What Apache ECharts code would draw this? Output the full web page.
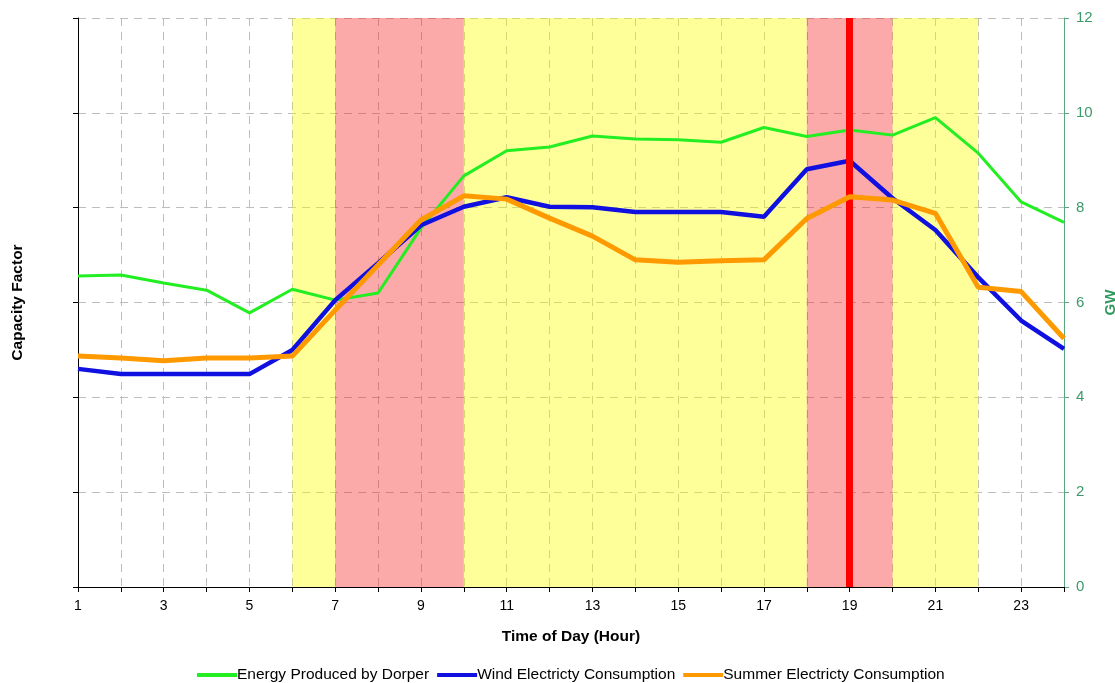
<!DOCTYPE html>
<html>
<head>
<meta charset="utf-8">
<script src="https://cdn.jsdelivr.net/npm/echarts@6/dist/echarts.min.js"></script>
<style>html,body{margin:0;padding:0;background:#fff;overflow:hidden;}#c{width:1115px;height:683px;}</style>
</head>
<body>
<div id="c"></div>
<script>
var hours = [1,2,3,4,5,6,7,8,9,10,11,12,13,14,15,16,17,18,19,20,21,22,23,24];
var dorper = [6.56,6.58,6.41,6.26,5.78,6.28,6.05,6.20,7.57,8.67,9.20,9.28,9.51,9.45,9.43,9.38,9.69,9.50,9.64,9.53,9.90,9.15,8.12,7.69];
var wind = [4.60,4.49,4.49,4.49,4.49,5.00,6.05,6.83,7.63,8.02,8.22,8.02,8.01,7.91,7.91,7.91,7.81,8.81,8.99,8.20,7.53,6.53,5.62,5.02];
var summer = [4.87,4.83,4.77,4.83,4.83,4.87,5.84,6.79,7.74,8.25,8.18,7.78,7.40,6.90,6.85,6.88,6.90,7.77,8.23,8.16,7.88,6.32,6.23,5.24];
var yellowBands = [[6,7],[10,18],[20,22]];
var redBands = [[7,10],[18,20]];
var peakHour = 19;

function pairs(v){ return hours.map(function(h,i){ return [h, v[i]]; }); }

var areas = [];
yellowBands.forEach(function(b){ areas.push([{xAxis:b[0], itemStyle:{color:'rgba(255,255,0,0.4)'}},{xAxis:b[1]}]); });
redBands.forEach(function(b){ areas.push([{xAxis:b[0], itemStyle:{color:'rgba(245,40,40,0.4)'}},{xAxis:b[1]}]); });

var chart = echarts.init(document.getElementById('c'), null, {width:1115, height:683});
chart.setOption({
  animation:false,
  textStyle:{fontFamily:'Liberation Sans, Arial, sans-serif'},
  grid:{left:78,right:51,top:18,bottom:96,containLabel:false,outerBoundsMode:'none'},
  legend:{
    top:662, left:192, itemWidth:40, itemHeight:4, itemGap:8, icon:'rect',
    textStyle:{fontSize:15.5,color:'#000',padding:[0,0,0,-5]},
    data:['Energy Produced by Dorper','Wind Electricty Consumption','Summer Electricty Consumption']
  },
  xAxis:{
    type:'value', min:1, max:24, interval:1,
    name:'Time of Day (Hour)', nameLocation:'middle', nameGap:42,
    nameTextStyle:{fontSize:15.5,fontWeight:'bold',color:'#000'},
    axisLine:{lineStyle:{color:'#000',width:1}},
    axisTick:{show:true,length:5,lineStyle:{color:'#000'}},
    axisLabel:{fontSize:14,color:'#000',margin:12,formatter:function(v){return (v%2===1)?String(v):'';}},
    splitLine:{show:true,lineStyle:{type:[8,6],color:'#bdbdbd',width:1}}
  },
  yAxis:[{
    type:'value', min:0, max:12, interval:2, position:'left',
    name:'Capacity Factor', nameLocation:'middle', nameGap:52, nameRotate:90,
    nameTextStyle:{fontSize:15.5,fontWeight:'bold',color:'#000'},
    axisLine:{show:true,lineStyle:{color:'#000'}},
    axisTick:{show:true,length:5,lineStyle:{color:'#000'}},
    axisLabel:{show:false},
    splitLine:{show:true,lineStyle:{type:[8,6],color:'#bdbdbd',width:1}}
  },{
    type:'value', min:0, max:12, interval:2, position:'right',
    name:'GW', nameLocation:'middle', nameGap:38, nameRotate:90,
    nameTextStyle:{fontSize:15,fontWeight:'bold',color:'#2e9a5e'},
    axisLine:{show:true,lineStyle:{color:'#5aa880'}},
    axisTick:{show:true,length:5,lineStyle:{color:'#5aa880'}},
    axisLabel:{fontSize:15,color:'#3a9a6a',margin:12},
    splitLine:{show:false}
  }],
  series:[
    {name:'Energy Produced by Dorper',type:'line',yAxisIndex:1,data:pairs(dorper),symbol:'none',
      lineStyle:{color:'#22ee22',width:3},itemStyle:{color:'#22ee22'},z:3},
    {name:'Wind Electricty Consumption',type:'line',yAxisIndex:1,data:pairs(wind),symbol:'none',
      lineStyle:{color:'#1010e0',width:4.5},itemStyle:{color:'#1010e0'},z:4},
    {name:'Summer Electricty Consumption',type:'line',yAxisIndex:1,data:pairs(summer),symbol:'none',
      lineStyle:{color:'#ff9900',width:5},itemStyle:{color:'#ff9900'},z:5},
    {name:'bands',type:'line',yAxisIndex:1,data:[],z:10,silent:true,
      markArea:{silent:true,data:areas},
      markLine:{silent:true,symbol:'none',label:{show:false},
        lineStyle:{color:'#ff0000',width:7,type:'solid'},data:[{xAxis:peakHour}]}}
  ]
});
</script>
</body>
</html>
